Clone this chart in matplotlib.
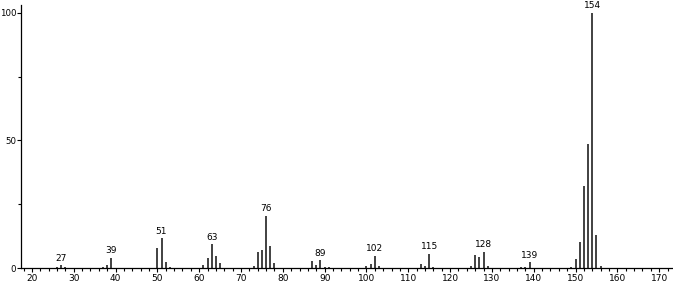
import matplotlib
matplotlib.use("Agg")
import matplotlib.pyplot as plt
from matplotlib.ticker import MultipleLocator

mz = [26, 27, 28, 37, 38, 39, 50, 51, 52, 53, 61, 62, 63, 64, 65,
      73, 74, 75, 76, 77, 78, 87, 88, 89, 90, 91, 100, 101, 102, 103,
      113, 114, 115, 116, 125, 126, 127, 128, 129, 137, 138, 139,
      149, 150, 151, 152, 153, 154, 155, 156]
intensity = [0.5, 1.0, 0.5, 0.3, 1.0, 4.0, 7.7, 11.6, 2.5, 0.5, 1.2, 3.8, 9.3, 4.7, 2.0,
             0.7, 6.4, 7.0, 20.4, 8.6, 1.8, 2.6, 1.0, 3.1, 0.4, 0.5, 0.8, 1.7, 4.7, 0.7,
             1.4, 0.8, 5.6, 0.3, 0.9, 5.0, 4.4, 6.4, 0.9, 0.3, 0.3, 2.2,
             0.4, 3.5, 10.2, 32.0, 48.5, 100.0, 12.9, 0.8]
labeled = [27, 39, 51, 63, 76, 89, 102, 115, 128, 139, 154]
xticks = [20, 30, 40, 50, 60, 70, 80, 90, 100, 110, 120, 130, 140, 150, 160, 170]
yticks = [0, 50, 100]

fig = plt.figure(figsize=(6.73, 2.85), dpi=100)
ax = fig.add_axes([21/673, 17/285, 1 - 21/673, (268 - 5)/285])
ax.vlines(mz, 0, intensity, color="#333333", linewidth=1.3)
for m, v in zip(mz, intensity):
    if m in labeled:
        ax.text(m, v + 1.0, str(m), ha="center", va="bottom", fontsize=6.5, color="black")

ax.set_xlim(17.4, 173.3)
ax.set_ylim(0, 103.1)
ax.set_xticks(xticks)
ax.set_yticks(yticks)
ax.xaxis.set_minor_locator(MultipleLocator(2))
ax.yaxis.set_minor_locator(MultipleLocator(25))
ax.tick_params(axis="x", which="major", labelsize=6.5, length=3, width=0.8, pad=1)
ax.tick_params(axis="y", which="major", labelsize=6.2, length=3, width=0.8, pad=0.5)
ax.tick_params(axis="both", which="minor", length=2, width=0.8)
for s in ["top", "right"]:
    ax.spines[s].set_visible(False)
for s in ["left", "bottom"]:
    ax.spines[s].set_linewidth(0.9)
fig.savefig("out.png", dpi=100)
